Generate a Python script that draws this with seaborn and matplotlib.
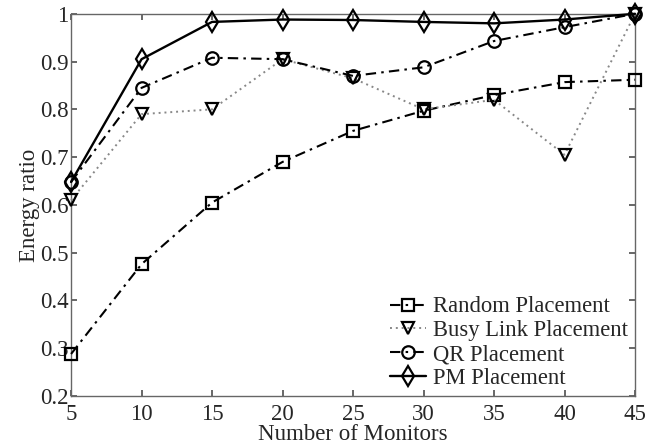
import pandas as pd
import matplotlib
matplotlib.use("Agg")
import matplotlib.pyplot as plt
import seaborn as sns

# Data
monitors = [5, 10, 15, 20, 25, 30, 35, 40, 45]
random_placement = [0.288, 0.476, 0.605, 0.690, 0.755, 0.797, 0.830, 0.857, 0.862]
busy_link_placement = [0.610, 0.790, 0.800, 0.905, 0.865, 0.800, 0.820, 0.705, 1.000]
qr_placement = [0.648, 0.845, 0.908, 0.905, 0.870, 0.888, 0.943, 0.972, 1.000]
pm_placement = [0.648, 0.905, 0.983, 0.988, 0.987, 0.983, 0.980, 0.988, 1.000]

dashdot = (0, (5, 2.5, 1.2, 2.5))
series = [
    ("Random Placement", random_placement, "s", dashdot, "black", 1.5, 8),
    ("Busy Link Placement", busy_link_placement, "v", (0, (1, 2)), "#888888", 1.4, 9),
    ("QR Placement", qr_placement, "o", dashdot, "black", 1.5, 9),
    ("PM Placement", pm_placement, "d", "-", "black", 1.7, 10),
]

sns.set_theme(style="ticks")
plt.rcParams['font.family'] = ['Liberation Serif', 'DejaVu Serif']

fig = plt.figure(figsize=(6.46, 4.45), dpi=100)
ax = fig.add_axes([0.110, 0.110, 0.873, 0.859])

for name, values, marker, ls, color, lw, ms in series:
    df = pd.DataFrame({"monitors": monitors, "ratio": values})
    sns.lineplot(data=df, x="monitors", y="ratio", ax=ax, label=name,
                 color=color, linestyle=ls, linewidth=lw, marker=marker,
                 markersize=ms, markerfacecolor="none", markeredgecolor="black",
                 markeredgewidth=1.6, clip_on=False, zorder=3)

ax.set_xlim(5, 45)
ax.set_ylim(0.2, 1.0)
ax.set_xticks(monitors)
ax.set_yticks([0.2, 0.3, 0.4, 0.5, 0.6, 0.7, 0.8, 0.9, 1.0])
ax.set_yticklabels(["0.2", "0.3", "0.4", "0.5", "0.6", "0.7", "0.8", "0.9", "1"])
ax.tick_params(direction="in", top=True, right=True, labelsize=16.5,
               length=4, color="#555555")
ax.tick_params(axis="x", pad=6)
ax.tick_params(axis="y", pad=2)
for spine in ax.spines.values():
    spine.set_color("#666666")
    spine.set_linewidth(1.0)

ax.set_xlabel("Number of Monitors", fontsize=16.5, labelpad=-1)
ax.set_ylabel("Energy ratio", fontsize=16.5, labelpad=0)

leg = ax.legend(loc="lower right", frameon=False, fontsize=16.3, handlelength=1.6,
                handletextpad=0.3, labelspacing=0.13, borderaxespad=0.1,
                borderpad=0.2)

fig.savefig("out.png", dpi=100)
